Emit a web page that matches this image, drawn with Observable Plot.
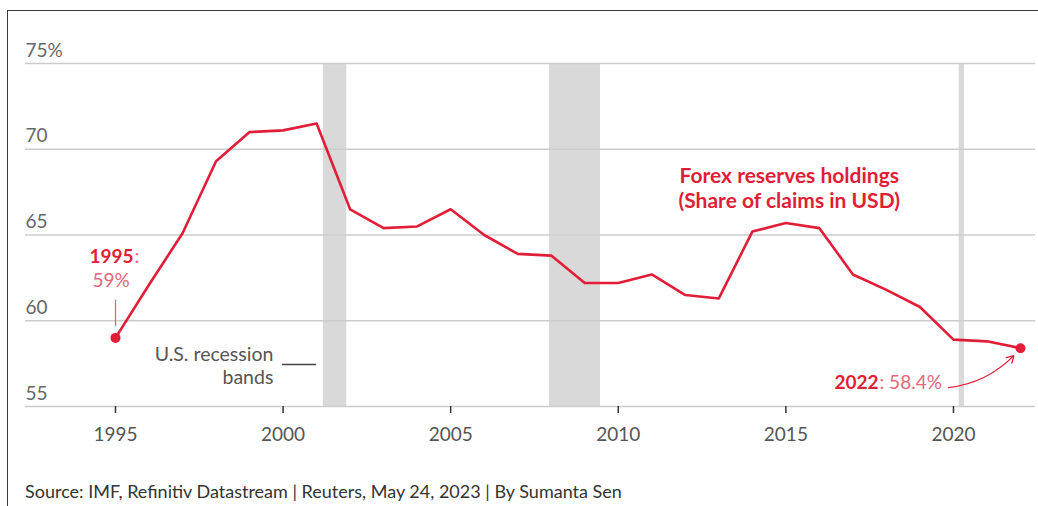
<!DOCTYPE html>
<html>
<head>
<meta charset="utf-8">
<script src="https://cdn.jsdelivr.net/npm/d3@7"></script>
<script src="https://cdn.jsdelivr.net/npm/@observablehq/plot@0.6"></script>
<style>
  html, body { margin: 0; padding: 0; background: #fff; }
  #wrap { position: relative; width: 1038px; height: 506px; overflow: hidden; font-family: Lato, sans-serif; }
  #frame { position: absolute; left: 7px; top: 10px; width: 1040px; height: 510px; border-top: 1.5px solid #3a3a3a; border-left: 1.5px solid #3a3a3a; }
  #chart { position: absolute; left: 0; top: 0; }
  #source { position: absolute; left: 25px; top: 480px; font-size: 18px; color: #333; white-space: nowrap; }
</style>
</head>
<body>
<div id="wrap">
  <div id="frame"></div>
  <div id="chart"></div>
  <div id="source"></div>
</div>
<script>
// ---- data ----
const years = [1995, 1996, 1997, 1998, 1999, 2000, 2001, 2002, 2003, 2004, 2005, 2006, 2007, 2008,
               2009, 2010, 2011, 2012, 2013, 2014, 2015, 2016, 2017, 2018, 2019, 2020, 2021, 2022];
const usdShare = [59.0, 62.1, 65.1, 69.3, 71.0, 71.1, 71.5, 66.5, 65.4, 65.5, 66.5, 65.0, 63.9, 63.8,
                  62.2, 62.2, 62.7, 61.5, 61.3, 65.2, 65.7, 65.4, 62.7, 61.8, 60.8, 58.9, 58.8, 58.4];
const recessionStart = [2001.2, 2007.95, 2020.17];
const recessionEnd   = [2001.9, 2009.47, 2020.33];
const xTicks = [1995, 2000, 2005, 2010, 2015, 2020];
const yTicks = [55, 60, 65, 70, 75];
const yTickLabels = ["55", "60", "65", "70", "75%"];
const seriesLabel = "Forex reserves holdings\n(Share of claims in USD)";
const legendLabel = "U.S. recession\nbands";
const sourceText = "Source: IMF, Refinitiv Datastream | Reuters, May 24, 2023 | By Sumanta Sen";

document.getElementById("source").textContent = sourceText;

// ---- styles ----
const RED = "#e11d38";
const PINK = "#e4667a";
const FONT = "Lato, sans-serif";

const series = years.map((y, i) => ({year: y, value: usdShare[i]}));
const bands = recessionStart.map((s, i) => ({x1: s, x2: recessionEnd[i]}));
const first = series[0];
const last = series[series.length - 1];

// annotation anchors (data units)
const titleAnchor = [{x: 2015.1, y: 67.78}];
const legendText = [{x: 1999.71, y: 57.42}];
const legendLine = [{x1: 1999.98, x2: 2001.0, y: 57.45}];
const leader1995 = [{x: first.year, y1: first.value + 0.65, y2: first.value + 2.2}];
const arrow2022 = [{x1: 2019.85, y1: 56.1, x2: last.year, y2: last.value}];

const pxPerYear = (1020 - 115) / 27;
const xLo = 1995 - 90 / pxPerYear;
const xHi = 2022 + 15 / pxPerYear;

const chart = Plot.plot({
  width: 1038,
  height: 470,
  marginLeft: 25,
  marginRight: 3,
  marginTop: 63,
  marginBottom: 64,
  x: {domain: [xLo, xHi], axis: null},
  y: {domain: [55, 75], axis: null},
  style: {fontFamily: FONT, background: "transparent", overflow: "visible"},
  marks: [
    Plot.rect(bands, {x1: "x1", x2: "x2", y1: 55, y2: 75, fill: "#d9d9d9"}),
    Plot.ruleY(yTicks, {stroke: "#cccccc", strokeWidth: 1.5}),
    Plot.text(yTicks, {y: d => d, text: (d, i) => yTickLabels[i], frameAnchor: "left", textAnchor: "start",
                       dy: -13, fontSize: 19, fill: "#666"}),
    Plot.axisX(xTicks, {tickSize: 7, tickPadding: 14, stroke: "#333", strokeWidth: 1.5,
                        tickFormat: d => String(d), fontSize: 19, fill: "#555"}),
    Plot.line(series, {x: "year", y: "value", stroke: RED, strokeWidth: 2.6}),
    Plot.dot([first, last], {x: "year", y: "value", r: 5, fill: RED}),
    // 1995 label
    Plot.ruleX(leader1995, {x: "x", y1: "y1", y2: "y2", stroke: PINK, strokeWidth: 1.3}),
    Plot.text([first], {x: "year", y: "value", text: d => String(d.year), dx: 18, dy: -81, textAnchor: "end",
                        fontWeight: "bold", fontSize: 19, fill: RED}),
    Plot.text([first], {x: "year", y: "value", text: () => ":", dx: 19, dy: -81, textAnchor: "start",
                        fontSize: 19, fill: PINK}),
    Plot.text([first], {x: "year", y: "value", text: d => d3.format(".0f")(d.value) + "%", dx: -23, dy: -57,
                        textAnchor: "start", fontSize: 19, fill: PINK}),
    // 2022 label
    Plot.text([last], {x: "year", y: "value", text: d => String(d.year), dx: -142, dy: 35, textAnchor: "end",
                       fontWeight: "bold", fontSize: 19, fill: RED}),
    Plot.text([last], {x: "year", y: "value", text: d => ": " + d3.format(".1f")(d.value) + "%", dx: -141, dy: 35,
                       textAnchor: "start", fontSize: 19, fill: PINK}),
    Plot.arrow(arrow2022, {x1: "x1", y1: "y1", x2: "x2", y2: "y2", bend: -22, stroke: RED, strokeWidth: 1.3,
                           headLength: 9, insetEnd: 10}),
    // series title
    Plot.text(titleAnchor, {x: "x", y: "y", text: () => seriesLabel, textAnchor: "middle", lineHeight: 1.2,
                            fontWeight: "bold", fontSize: 21, fill: RED}),
    // recession legend
    Plot.text(legendText, {x: "x", y: "y", text: () => legendLabel, textAnchor: "end", lineHeight: 1.22,
                           fontSize: 19.5, fill: "#555"}),
    Plot.ruleY(legendLine, {x1: "x1", x2: "x2", y: "y", stroke: "#444", strokeWidth: 1.5})
  ]
});
document.getElementById("chart").appendChild(chart);
</script>
</body>
</html>
